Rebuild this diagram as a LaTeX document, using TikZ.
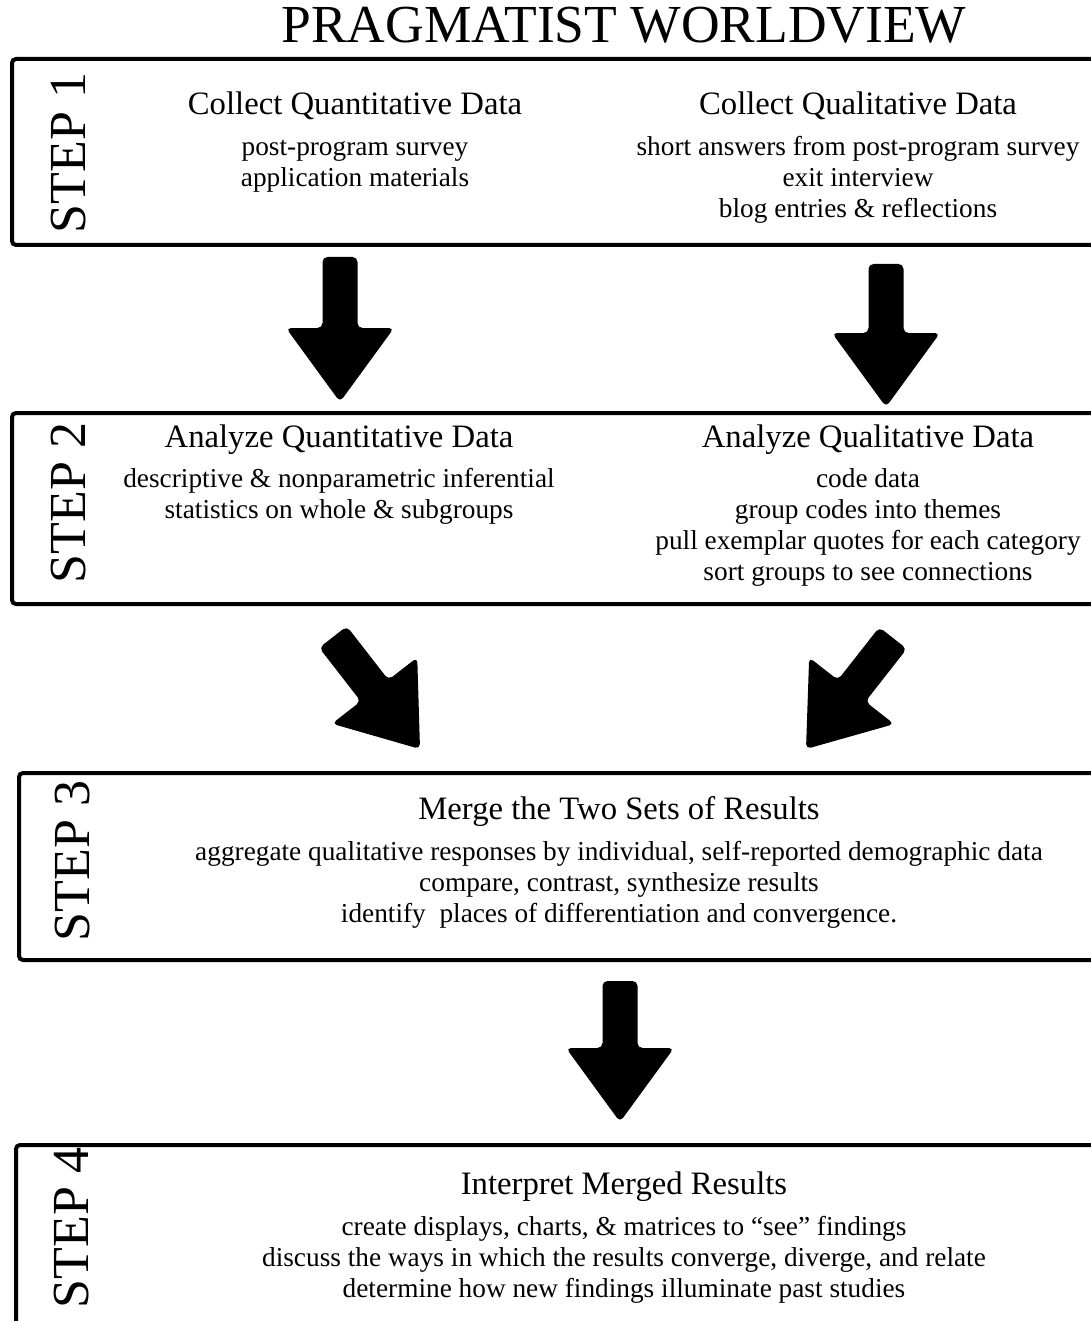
\documentclass[tikz,border=0pt]{standalone}
\usepackage{fontspec}
\setmainfont{Liberation Serif}
\usetikzlibrary{calc}
\newcommand\blockarrow[2]{%
  \coordinate (#1-h) at ($(#2)!74pt!(#1)$);
  \fill[arrowfill] ($(#1)!17.5pt!90:(#2)$) -- ($(#1-h)!17.5pt!90:(#2)$) -- ($(#1-h)!54pt!90:(#2)$) -- (#2) -- ($(#1-h)!54pt!-90:(#2)$) -- ($(#1-h)!17.5pt!-90:(#2)$) -- ($(#1)!17.5pt!-90:(#2)$) -- cycle;}
\tikzset{
  titletext/.style={font=\fontsize{53.5}{60}\selectfont, inner sep=0pt},
  steplabel/.style={rotate=90, font=\fontsize{52}{58}\selectfont, inner sep=0pt},
  headtext/.style={font=\fontsize{32.7}{38}\selectfont, anchor=base, inner sep=0pt},
  bodytext/.style={font=\fontsize{27.3}{31}\selectfont, anchor=base, inner sep=0pt},
  stepbox/.style={draw, line width=4pt, rounded corners=4pt, inner sep=0pt, anchor=north west},
  arrowfill/.style={fill=black, rounded corners=5pt},
}
\begin{document}
\begin{tikzpicture}[x=1pt, y=-1pt]
\useasboundingbox (0,0) rectangle (1091,1321);
\clip (0,0) rectangle (1091,1321);
\fill[white] (0,0) rectangle (1091,1321);

\node[titletext] (title) at (624,25) {PRAGMATIST WORLDVIEW};

% boxes
\node[stepbox, minimum width=1200pt, minimum height=186pt] (box1) at (10,57) {};
\node[stepbox, minimum width=1200pt, minimum height=191pt] (box2) at (10,411) {};
\node[stepbox, minimum width=1200pt, minimum height=187pt] (box3) at (17,771) {};
\node[stepbox, minimum width=1200pt, minimum height=260pt] (box4) at (14,1143) {};

% step labels
\node[steplabel] (s1) at (69,153) {STEP 1};
\node[steplabel] (s2) at (69,503) {STEP 2};
\node[steplabel] (s3) at (73,861) {STEP 3};
\node[steplabel] (s4) at (72,1228) {STEP 4};

% step 1
\node[headtext] (h1a) at (355,114.5) {Collect Quantitative Data};
\foreach \t [count=\i] in {{post-program survey},{application materials}}
  \node[bodytext] (b1a-\i) at (355,{155.5+31*(\i-1)}) {\t};
\node[headtext] (h1b) at (858,114.5) {Collect Qualitative Data};
\foreach \t [count=\i] in {{short answers from post-program survey},{exit interview},{blog entries \& reflections}}
  \node[bodytext] (b1b-\i) at (858,{155.5+31*(\i-1)}) {\t};

% step 2
\node[headtext] (h2a) at (339,447.5) {Analyze Quantitative Data};
\foreach \t [count=\i] in {{descriptive \& nonparametric inferential},{statistics on whole \& subgroups}}
  \node[bodytext] (b2a-\i) at (339,{487.5+31*(\i-1)}) {\t};
\node[headtext] (h2b) at (868,447.5) {Analyze Qualitative Data};
\foreach \t [count=\i] in {{code data},{group codes into themes},{pull exemplar quotes for each category},{sort groups to see connections}}
  \node[bodytext] (b2b-\i) at (868,{487.5+31*(\i-1)}) {\t};

% step 3
\node[headtext] (h3) at (619,819.5) {Merge the Two Sets of Results};
\foreach \t [count=\i] in {{aggregate qualitative responses by individual, self-reported demographic data},{compare, contrast, synthesize results},{identify\ \ places of differentiation and convergence.}}
  \node[bodytext] (b3-\i) at (619,{860.5+31*(\i-1)}) {\t};

% step 4
\node[headtext] (h4) at (624,1194.5) {Interpret Merged Results};
\foreach \t [count=\i] in {{create displays, charts, \& matrices to “see” findings},{discuss the ways in which the results converge, diverge, and relate},{determine how new findings illuminate past studies}}
  \node[bodytext] (b4-\i) at (624,{1235.5+31*(\i-1)}) {\t};

% arrows
\coordinate (a1) at (340,257);  \coordinate (a1t) at (340,402);
\coordinate (a2) at (886,264);  \coordinate (a2t) at (886,407);
\coordinate (a3) at (333,637);  \coordinate (a3t) at (420,749);
\coordinate (a4) at (893,638);  \coordinate (a4t) at (806,749);
\coordinate (a5) at (620,981);  \coordinate (a5t) at (620,1122);
\blockarrow{a1}{a1t}
\blockarrow{a2}{a2t}
\blockarrow{a3}{a3t}
\blockarrow{a4}{a4t}
\blockarrow{a5}{a5t}
\end{tikzpicture}
\end{document}
